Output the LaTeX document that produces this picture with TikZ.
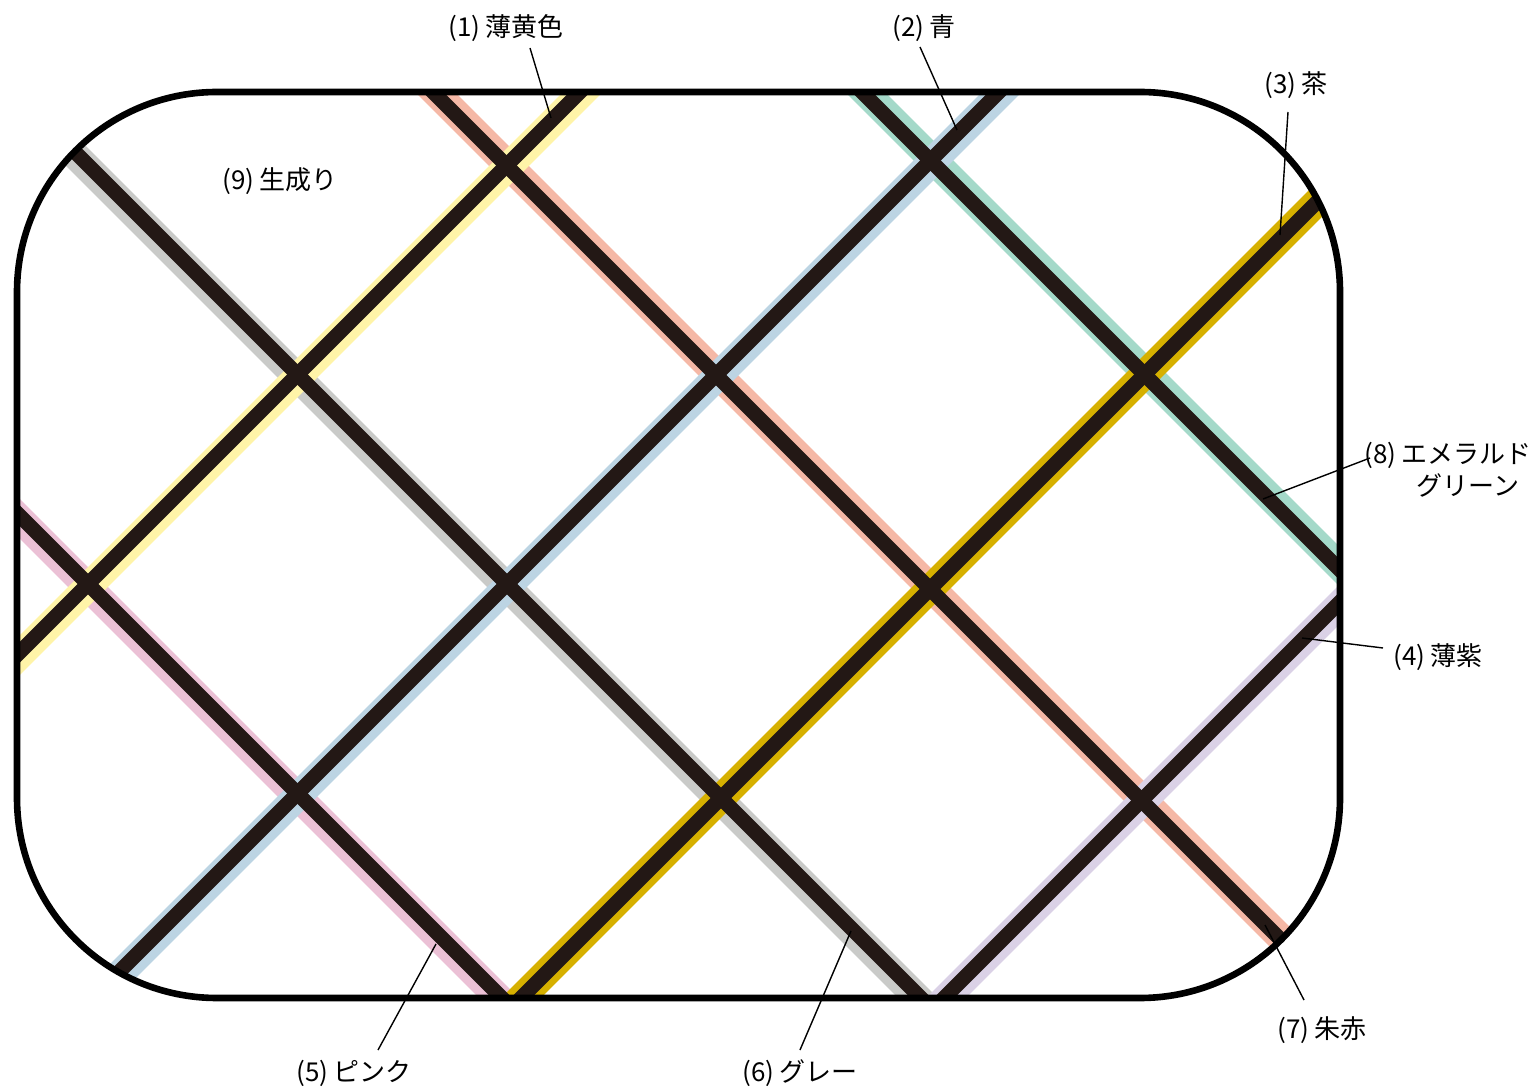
\documentclass[tikz,border=0pt]{standalone}
\usepackage{fontspec}
\newfontfamily\jpfont{Noto Sans CJK JP}
\definecolor{coreblack}{RGB}{35,24,21}
\definecolor{yellowband}{RGB}{255,244,168}
\definecolor{blueband}{RGB}{188,212,227}
\definecolor{goldband}{RGB}{214,176,0}
\definecolor{lilacband}{RGB}{218,209,230}
\definecolor{grayband}{RGB}{201,202,200}
\definecolor{pinkband}{RGB}{235,192,213}
\definecolor{salmonband}{RGB}{245,184,166}
\definecolor{greenband}{RGB}{164,217,201}
\newcommand{\num}[1]{(#1)\kern2.5pt}
\begin{document}
\begin{tikzpicture}[x=0.5pt,y=-0.5pt,
    band/.style={line width=14pt},
    core/.style={line width=7.3pt,coreblack},
    leader/.style={line width=0.7pt},
    lbl/.style={font=\jpfont\fontsize{13}{16}\selectfont,inner sep=0pt}]
  \useasboundingbox (0,0) rectangle (1537,1090);
  % stripes, clipped to the frame
  \begin{scope}
    \clip[rounded corners=100pt] (17,92) rectangle (1340,998);
    \foreach \c/\col/\dx/\dy in {-496/pinkband/-1.5/1.5,-77/grayband/-1.5/1.5,
        341/salmonband/1/-1,770/greenband/1.5/-1.5}
      \draw[band,\col,shift={(\dx,\dy)}] (-100,{-100-(\c)}) -- (1600,{1600-(\c)});
    \foreach \c/\col/\dx/\dy in {672/yellowband/1.5/1.5,1091/blueband/1.5/1.5,
        1519/goldband/0/0,1942/lilacband/1/1}
      \draw[band,\col,shift={(\dx,\dy)}] (-100,{\c+100}) -- (1600,{\c-1600});
    \foreach \c in {-496,-77,341,770}
      \draw[core] (-100,{-100-(\c)}) -- (1600,{1600-(\c)});
    \foreach \c in {672,1091,1519,1942}
      \draw[core] (-100,{\c+100}) -- (1600,{\c-1600});
  \end{scope}
  \draw[line width=3.3pt,rounded corners=100pt] (17,92) rectangle (1340,998);
  % labels
  \node[lbl] (yellow) at (506,28) {\num{1}薄黄色};
  \node[lbl] (blue) at (924,28) {\num{2}青};
  \node[lbl] (brown) at (1296,85) {\num{3}茶};
  \node[lbl] (kinari) at (280,181) {\num{9}生成り};
  \node[lbl,align=right,anchor=east] (emerald) at (1532,470)
    {\num{8}エメラルド\\グリーン\hspace*{6pt}};
  \node[lbl] (lilac) at (1438,657) {\num{4}薄紫};
  \node[lbl] (vermilion) at (1322,1030) {\num{7}朱赤};
  \node[lbl] (pink) at (354,1073) {\num{5}ピンク};
  \node[lbl] (gray) at (800,1073) {\num{6}グレー};
  % leader ends
  \coordinate (yellow-a) at (530,48);   \coordinate (yellow-b) at (551,118);
  \coordinate (blue-a) at (920,47);     \coordinate (blue-b) at (957,130);
  \coordinate (brown-a) at (1288,112);  \coordinate (brown-b) at (1280,235);
  \coordinate (emerald-a) at (1370,458); \coordinate (emerald-b) at (1263,499);
  \coordinate (lilac-a) at (1383,648);  \coordinate (lilac-b) at (1302,638);
  \coordinate (vermilion-a) at (1304,1000); \coordinate (vermilion-b) at (1265,925);
  \coordinate (pink-a) at (378,1050);   \coordinate (pink-b) at (436,944);
  \coordinate (gray-a) at (800,1050);   \coordinate (gray-b) at (851,931);
  \foreach \n in {yellow,blue,brown,emerald,lilac,vermilion,pink,gray}
    \draw[leader] (\n-a) -- (\n-b);
\end{tikzpicture}
\end{document}
